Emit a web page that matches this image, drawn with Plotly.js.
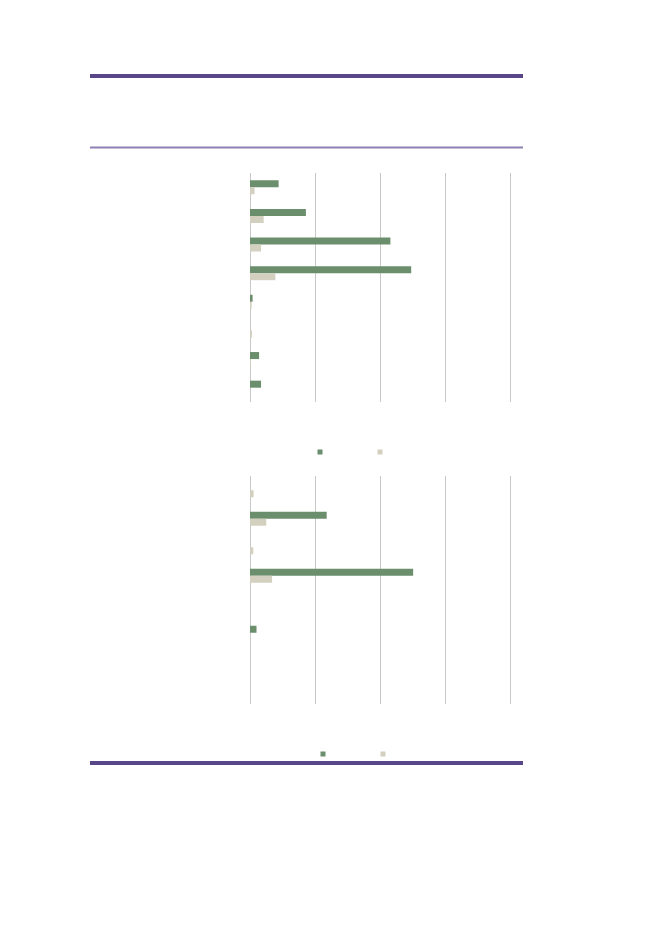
<!DOCTYPE html>
<html><head><meta charset="utf-8">
<script src="https://cdn.plot.ly/plotly-3.0.1.min.js"></script>
<style>html,body{margin:0;padding:0;background:#fff}#c{width:661px;height:933px}</style>
</head><body><div id="c"></div>
<script>
// Data (x axis units: one gridline = 10)
var categoriesTop = ['1','2','3','4','5','6','7','8'];
var seriesATop = [4.4, 8.6, 21.6, 24.8, 0.4, 0, 1.4, 1.7];
var seriesBTop = [0.7, 2.1, 1.7, 3.9, 0.25, 0.3, 0.15, 0];
var categoriesBottom = ['1','2','3','4','5','6','7','8'];
var seriesABottom = [0, 11.8, 0, 25.1, 0, 1.0, 0, 0];
var seriesBBottom = [0.55, 2.5, 0.5, 3.4, 0.05, 0.05, 0.05, 0];
var xTicks = [0, 10, 20, 30, 40];

var green = 'rgb(107,142,109)';
var beige = 'rgb(211,208,191)';
var W = 661, H = 933;
function px(x){return x/W;}
function py(y){return 1 - y/H;}

var traces = [
  {type:'bar', orientation:'h', y:categoriesTop, x:seriesATop, marker:{color:green}, xaxis:'x', yaxis:'y', showlegend:false, hoverinfo:'none'},
  {type:'bar', orientation:'h', y:categoriesTop, x:seriesBTop, marker:{color:beige}, xaxis:'x', yaxis:'y', showlegend:false, hoverinfo:'none'},
  {type:'bar', orientation:'h', y:categoriesBottom, x:seriesABottom, marker:{color:green}, xaxis:'x2', yaxis:'y2', showlegend:false, hoverinfo:'none'},
  {type:'bar', orientation:'h', y:categoriesBottom, x:seriesBBottom, marker:{color:beige}, xaxis:'x2', yaxis:'y2', showlegend:false, hoverinfo:'none'},
  // legend entries
  {type:'scatter', mode:'markers', x:[null], y:[null], name:'', marker:{symbol:'square', size:5, color:green}, legend:'legend', xaxis:'x', yaxis:'y'},
  {type:'scatter', mode:'markers', x:[null], y:[null], name:'', marker:{symbol:'square', size:5, color:beige}, legend:'legend', xaxis:'x', yaxis:'y'},
  {type:'scatter', mode:'markers', x:[null], y:[null], name:'', marker:{symbol:'square', size:5, color:green}, legend:'legend2', xaxis:'x2', yaxis:'y2'},
  {type:'scatter', mode:'markers', x:[null], y:[null], name:'', marker:{symbol:'square', size:5, color:beige}, legend:'legend2', xaxis:'x2', yaxis:'y2'}
];

var xMax = 40.5;
var xRight = 250 + 260 * xMax / 40;
var xax = {range:[0, xMax], tickvals:xTicks, showticklabels:false, showgrid:true, gridcolor:'rgb(200,200,200)', gridwidth:1, zeroline:true, zerolinecolor:'rgb(200,200,200)', zerolinewidth:1, showline:false, ticks:'', fixedrange:true};
var yax = {type:'category', autorange:'reversed', showticklabels:false, showgrid:false, zeroline:false, showline:false, ticks:'', fixedrange:true};

var layout = {
  width:W, height:H,
  margin:{l:0, r:0, t:0, b:0},
  paper_bgcolor:'#fff', plot_bgcolor:'rgba(0,0,0,0)',
  font:{family:'Liberation Sans, Arial, sans-serif', size:9, color:'#333'},
  barmode:'group', bargap:0.51, bargroupgap:0,
  xaxis: Object.assign({}, xax, {domain:[px(250), px(xRight)], anchor:'y'}),
  yaxis: Object.assign({}, yax, {domain:[py(402), py(173)], anchor:'x'}),
  xaxis2: Object.assign({}, xax, {domain:[px(250), px(xRight)], anchor:'y2'}),
  yaxis2: Object.assign({}, yax, {domain:[py(704), py(476)], anchor:'x2'}),
  legend:{orientation:'h', x:px(300), y:py(452), xanchor:'left', yanchor:'middle', bgcolor:'rgba(0,0,0,0)', entrywidth:15, entrywidthmode:'pixels', itemwidth:30, font:{size:9}},
  legend2:{orientation:'h', x:px(303), y:py(754), xanchor:'left', yanchor:'middle', bgcolor:'rgba(0,0,0,0)', entrywidth:15, entrywidthmode:'pixels', itemwidth:30, font:{size:9}},
  shapes:[
    {type:'line', xref:'paper', yref:'paper', x0:px(90), x1:px(523), y0:py(76), y1:py(76), line:{color:'rgb(88,70,136)', width:4}},
    {type:'line', xref:'paper', yref:'paper', x0:px(90), x1:px(523), y0:py(147.5), y1:py(147.5), line:{color:'rgb(142,128,178)', width:2}},
    {type:'line', xref:'paper', yref:'paper', x0:px(90), x1:px(523), y0:py(763), y1:py(763), line:{color:'rgb(88,70,136)', width:4}}
  ]
};

Plotly.newPlot('c', traces, layout, {staticPlot:true, displayModeBar:false});
</script>
</body></html>
